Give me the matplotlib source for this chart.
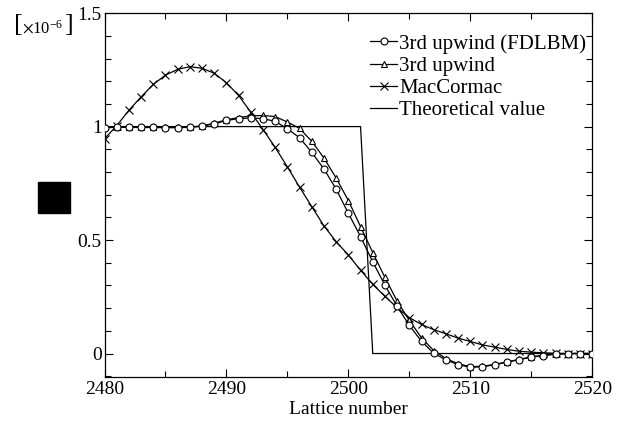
import matplotlib
matplotlib.use('Agg')
import matplotlib.pyplot as plt
from matplotlib.ticker import MultipleLocator
from matplotlib.patches import Rectangle

plt.rcParams['font.family'] = ['Liberation Serif', 'DejaVu Serif']
plt.rcParams['mathtext.fontset'] = 'stix'

lattice = list(range(2480, 2521))

fdlbm = [0.995, 0.997, 0.998, 0.996, 0.996, 0.995, 0.995, 0.997, 1.002, 1.012,
         1.027, 1.035, 1.038, 1.035, 1.023, 0.990, 0.951, 0.886, 0.813, 0.724,
         0.618, 0.515, 0.404, 0.301, 0.208, 0.124, 0.054, 0.001, -0.028, -0.049,
         -0.061, -0.058, -0.050, -0.038, -0.027, -0.016, -0.009, -0.003, 0.0, 0.0,
         0.0]

upwind = [0.997, 0.997, 0.997, 0.997, 0.997, 0.997, 0.997, 0.998, 1.003, 1.015,
          1.030, 1.040, 1.047, 1.049, 1.044, 1.020, 0.992, 0.935, 0.861, 0.773,
          0.674, 0.559, 0.445, 0.335, 0.231, 0.146, 0.069, 0.013, -0.022, -0.045,
          -0.058, -0.056, -0.048, -0.037, -0.026, -0.015, -0.008, -0.002, 0.0, 0.0,
          0.0]

maccormac = [0.946, 1.004, 1.072, 1.131, 1.186, 1.227, 1.252, 1.264, 1.257, 1.235,
             1.193, 1.137, 1.063, 0.987, 0.908, 0.822, 0.733, 0.647, 0.562, 0.493,
             0.434, 0.367, 0.305, 0.252, 0.202, 0.158, 0.128, 0.105, 0.087, 0.068,
             0.053, 0.038, 0.028, 0.018, 0.010, 0.006, 0.003, 0.001, 0.0, 0.0,
             0.0]

theory = [1.0] * 22 + [0.0] * 19

fig = plt.figure(figsize=(6.26, 4.23), dpi=100)
ax = fig.add_axes([0.167, 0.109, 0.779, 0.860])

lw = 0.9
ax.plot(lattice, theory, color='black', lw=lw, label='Theoretical value', zorder=2)
ax.plot(lattice, maccormac, color='black', lw=lw, marker='x', ms=6, mew=0.8,
        label='MacCormac', zorder=3)
ax.plot(lattice, upwind, color='black', lw=lw, marker='^', ms=5, mew=0.8,
        mfc='white', label='3rd upwind', zorder=4)
ax.plot(lattice, fdlbm, color='black', lw=lw, marker='o', ms=5, mew=0.8,
        mfc='white', label='3rd upwind (FDLBM)', zorder=5)

ax.set_xlim(2480, 2520)
ax.set_ylim(-0.103, 1.5)
ax.xaxis.set_major_locator(MultipleLocator(10))
ax.xaxis.set_minor_locator(MultipleLocator(5))
ax.yaxis.set_minor_locator(MultipleLocator(0.1))
ax.set_yticks([0, 0.5, 1, 1.5])
ax.set_yticklabels(['0', '0.5', '1', '1.5'])
ax.tick_params(which='both', direction='in', top=True, right=True, width=0.8,
               labelsize=14)
ax.tick_params(which='major', length=6)
ax.tick_params(which='minor', length=4)
ax.tick_params(axis='x', pad=3)
ax.tick_params(axis='y', pad=2)
for s in ax.spines.values():
    s.set_linewidth(0.9)

ax.set_xlabel('Lattice number', fontsize=14, labelpad=2)

handles, labels = ax.get_legend_handles_labels()
order = [3, 2, 1, 0]
ax.legend([handles[i] for i in order], [labels[i] for i in order],
          loc='upper left', bbox_to_anchor=(370 / 626, 1 - 34 / 423),
          bbox_transform=fig.transFigure, frameon=False, fontsize=15,
          handlelength=1.3, handletextpad=0.1, labelspacing=0.12,
          borderpad=0, borderaxespad=0)

# unit label  [x10^-6]
fig.text(14 / 626, 1 - 25 / 423, '[', fontsize=19, ha='left', va='center')
mid = fig.text(22 / 626, 1 - 33 / 423, r'$\times\mathregular{10^{-6}}$',
               fontsize=12, ha='left', va='baseline')
fig.canvas.draw()
x1 = mid.get_window_extent().x1 / fig.bbox.width
fig.text(x1 + 1 / 626, 1 - 25 / 423, ']', fontsize=19, ha='left', va='center')

fig.patches.append(Rectangle((38 / 626, 1 - 213 / 423), 32 / 626, 31 / 423,
                             transform=fig.transFigure, color='black'))

fig.savefig('out.png', dpi=100)
